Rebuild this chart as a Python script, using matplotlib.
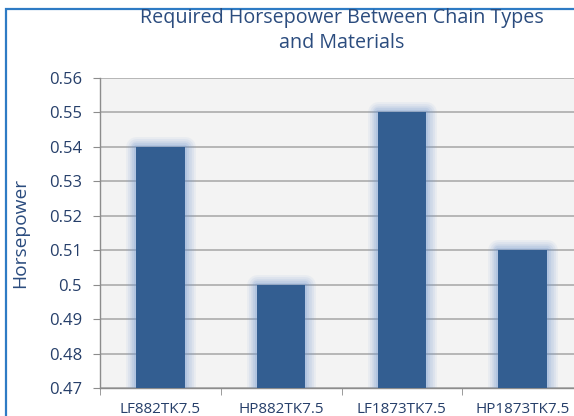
import numpy as np
import matplotlib
matplotlib.use('Agg')
import matplotlib.pyplot as plt
from matplotlib.patches import Rectangle

# data
chains = ['LF882TK7.5', 'HP882TK7.5', 'LF1873TK7.5', 'HP1873TK7.5']
horsepower = [0.54, 0.50, 0.55, 0.51]
yticks = [0.47, 0.48, 0.49, 0.5, 0.51, 0.52, 0.53, 0.54, 0.55, 0.56]
ytick_labels = ['0.47', '0.48', '0.49', '0.5', '0.51', '0.52', '0.53', '0.54', '0.55', '0.56']

plt.rcParams['font.family'] = ['Open Sans', 'DejaVu Sans']

bar_col = '#335E91'
text_col = '#2B4C7E'
tick_col = '#263F6A'

W, H = 574, 416
fig = plt.figure(figsize=(W / 100, H / 100), dpi=100)
fig.patch.set_facecolor('white')

# axes runs past the right edge of the image, like the cropped original
ax = fig.add_axes([100 / W, 28 / H, 483 / W, 310 / H])
ax.set_facecolor('#F3F3F3')

x = np.arange(len(chains))

# soft glow round the bars, layered wide edges
for lw, a in [(15, 0.08), (12, 0.10), (9, 0.12), (6, 0.15), (3, 0.2)]:
    ax.bar(x, horsepower, width=0.4, color='none', edgecolor=(0.45, 0.6, 0.82, a),
           linewidth=lw, joinstyle='round', zorder=2)
ax.bar(x, horsepower, width=0.4, color=bar_col, zorder=3)

ax.set_ylim(0.47, 0.56)
ax.set_xlim(-0.5, len(chains) - 0.5)
ax.set_yticks(yticks)
ax.set_yticklabels(ytick_labels)
ax.yaxis.grid(True, color='#A6A6A6', linewidth=1.1, zorder=1)
ax.set_axisbelow(True)

ax.set_xticks(x)
ax.set_xticklabels(chains)
ax.set_xticks(np.arange(-0.5, len(chains), 1.0), minor=True)
ax.tick_params(axis='x', which='major', length=0, pad=10, labelsize=11, labelcolor=tick_col)
ax.tick_params(axis='x', which='minor', length=5, color='#8C8C8C', direction='out')
ax.tick_params(axis='y', length=5, color='#8C8C8C', pad=8, labelsize=12, labelcolor=tick_col)

for s in ['top', 'right']:
    ax.spines[s].set_visible(False)
for s in ['left', 'bottom']:
    ax.spines[s].set_color('#8C8C8C')
    ax.spines[s].set_linewidth(1.0)

ax.set_ylabel('Horsepower', fontsize=13.8, color=text_col)
ax.yaxis.set_label_coords(-71 / 483, 0.5)

fig.text(341.5 / W, 1 - 8 / H, 'Required Horsepower Between Chain Types\nand Materials',
         ha='center', va='top', fontsize=14.2, color=text_col, linespacing=1.3)

# blue frame of the original, only top and left edges are in view
fig.add_artist(Rectangle((5.5 / W, -0.1), 1.2, 1 - 9 / H + 0.1, transform=fig.transFigure,
                         fill=False, edgecolor='#2E7BC4', linewidth=1.6))

plt.savefig('out.png', dpi=100)
